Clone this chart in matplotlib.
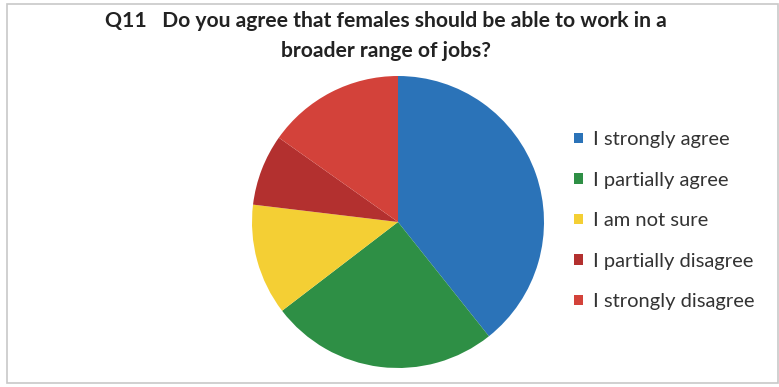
import matplotlib.pyplot as plt
from matplotlib.patches import Patch, Rectangle

# survey answers, share of respondents (%)
labels = ['I strongly agree', 'I partially agree', 'I am not sure',
          'I partially disagree', 'I strongly disagree']
shares = [39.3, 25.3, 12.3, 7.9, 15.2]
colors = ['#2b73b8', '#2e8f45', '#f4cf34', '#b3302f', '#d3423a']

title = 'Q11   Do you agree that females should be able to work in a\nbroader range of jobs?'

W, H = 779, 387
fig = plt.figure(figsize=(W / 100, H / 100), dpi=100)
fig.patch.set_facecolor('white')

# light chart border
fig.patches.append(Rectangle((7 / W, 4 / H), 771 / W, 379 / H, transform=fig.transFigure,
                             fill=False, edgecolor='#c8c8c8', linewidth=1.2))

fig.text(386 / W, 1 - 36 / H, title, ha='center', va='center', fontsize=15.2,
         fontweight='bold', family='Lato', color='#222222', linespacing=1.57)

cx, cy, r = 398, 222, 146
ax = fig.add_axes([(cx - r) / W, (H - cy - r) / H, 2 * r / W, 2 * r / H])
ax.pie(shares, colors=colors, startangle=90, counterclock=False,
       wedgeprops=dict(linewidth=0))
ax.set_xlim(-1, 1)
ax.set_ylim(-1, 1)
ax.set_aspect('equal')
ax.axis('off')

handles = [Patch(facecolor=c, edgecolor='none') for c in colors]
fig.legend(handles, labels, loc='upper left', bbox_to_anchor=(566 / W, 1 - 123 / H),
           frameon=False, prop=dict(family='Lato', size=14.5),
           handlelength=0.42, handleheight=0.42, handletextpad=0.5,
           labelspacing=1.17, borderaxespad=0, labelcolor='#333333')

plt.savefig('out.png', dpi=100)
